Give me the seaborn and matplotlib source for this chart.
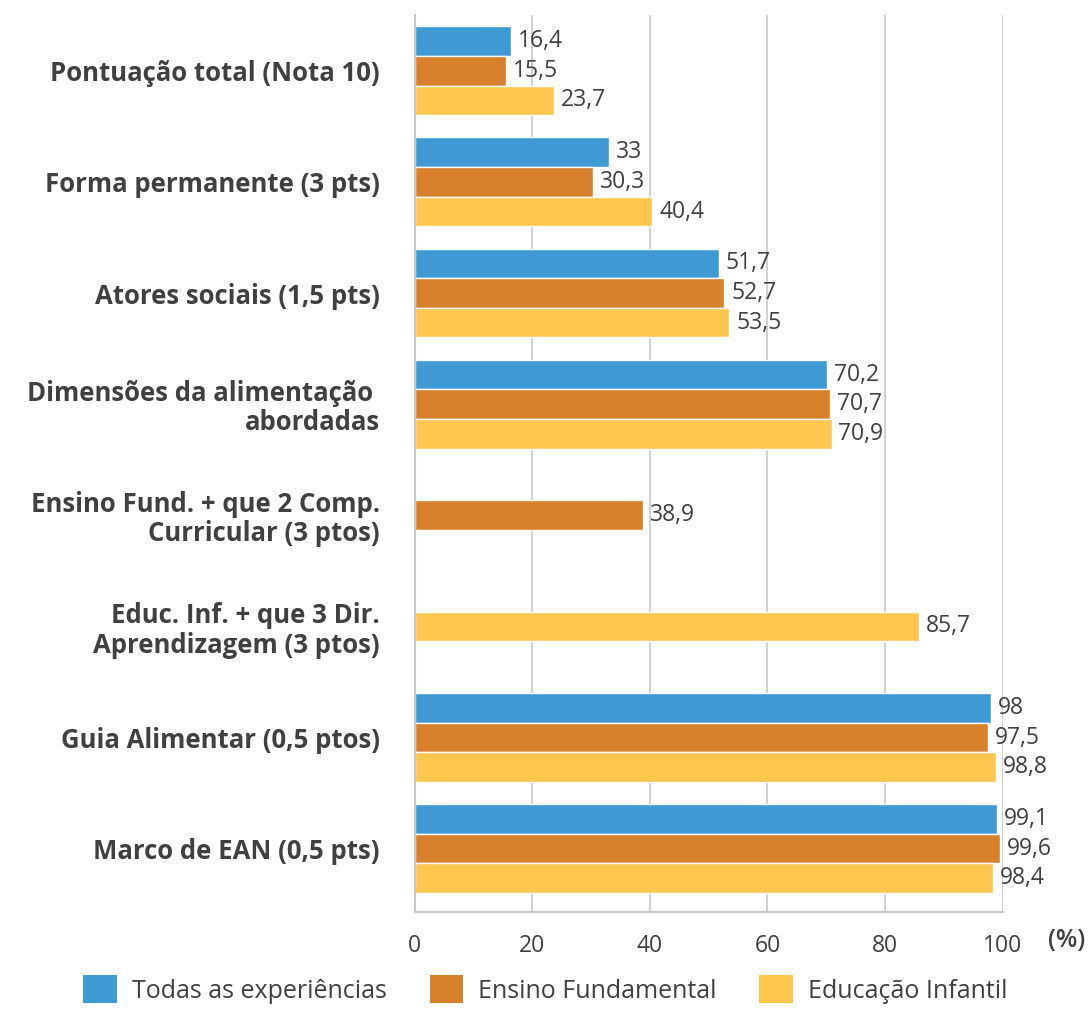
import numpy as np
import pandas as pd
import matplotlib.pyplot as plt
from matplotlib.patches import Patch
import seaborn as sns

# Data
categories = [
    "Pontuação total (Nota 10)",
    "Forma permanente (3 pts)",
    "Atores sociais (1,5 pts)",
    "Dimensões da alimentação \nabordadas",
    "Ensino Fund. + que 2 Comp.\nCurricular (3 ptos)",
    "Educ. Inf. + que 3 Dir.\nAprendizagem (3 ptos)",
    "Guia Alimentar (0,5 ptos)",
    "Marco de EAN (0,5 pts)",
]
series = ["Todas as experiências", "Ensino Fundamental", "Educação Infantil"]
todas = [16.4, 33, 51.7, 70.2, np.nan, np.nan, 98, 99.1]
fundamental = [15.5, 30.3, 52.7, 70.7, 38.9, np.nan, 97.5, 99.6]
infantil = [23.7, 40.4, 53.5, 70.9, np.nan, 85.7, 98.8, 98.4]
x_ticks = [0, 20, 40, 60, 80, 100]

colors = ["#3F99D3", "#D8812D", "#FDC64F"]
text_color = "#404040"
grid_color = "#c8c8c8"

sns.set_style("white")
plt.rcParams["font.family"] = ["Open Sans", "DejaVu Sans"]
plt.rcParams["text.color"] = text_color

df = pd.DataFrame({"categoria": categories, series[0]: todas,
                   series[1]: fundamental, series[2]: infantil})
long_df = df.melt(id_vars="categoria", var_name="serie", value_name="valor").dropna()
counts = long_df.groupby("categoria")["valor"].transform("count")
grouped = long_df[counts > 1]
single = long_df[counts == 1]

fig = plt.figure(figsize=(10.91, 10.13), dpi=100)
ax = fig.add_axes([0.380, 0.0997, 0.539, 0.8853])

sns.barplot(data=grouped, x="valor", y="categoria", hue="serie",
            order=categories, hue_order=series, palette=colors, saturation=1,
            width=0.8, orient="h", edgecolor="white", linewidth=1,
            legend=False, ax=ax)

# rows with a single series: bar centred in the category band
for _, row in single.iterrows():
    sns.barplot(x=[row["valor"]], y=[row["categoria"]], order=categories,
                color=colors[series.index(row["serie"])], saturation=1,
                width=0.8 / 3, orient="h", edgecolor="white", linewidth=1, ax=ax)


def fmt(v):
    return f"{v:.1f}".rstrip("0").rstrip(".").replace(".", ",")


for cont in ax.containers:
    ax.bar_label(cont, labels=[fmt(b.get_width()) for b in cont],
                 padding=5, fontsize=16.5, color=text_color)

ax.set_xlim(0, 100)
ax.set_ylim(7.57, -0.5)
ax.set_xticks(x_ticks)
ax.set_xticklabels([str(t) for t in x_ticks])
ax.set_xlabel("")
ax.set_ylabel("")
ax.grid(axis="x", color=grid_color, linewidth=1.2)
ax.set_axisbelow(True)

ax.set_yticks(np.arange(-0.5, 8, 1), minor=True)
ax.tick_params(axis="y", which="major", length=0, pad=25, labelsize=18.5)
ax.tick_params(axis="y", which="minor", length=9, width=1.2, color=grid_color)
ax.tick_params(axis="x", length=9, width=1.2, color=grid_color, pad=7,
               labelsize=16.5, labelcolor=text_color)
for lbl in ax.get_yticklabels():
    lbl.set_fontweight("bold")
    lbl.set_color(text_color)
    lbl.set_multialignment("right")
    lbl.set_linespacing(1.1)

for s in ["top", "right"]:
    ax.spines[s].set_visible(False)
for s in ["left", "bottom"]:
    ax.spines[s].set_color(grid_color)
    ax.spines[s].set_linewidth(1.5)

fig.text(1067 / 1091, 1 - 940 / 1013, "(%)", ha="center", va="center",
         fontsize=18, fontweight="semibold", color=text_color)

handles = [Patch(facecolor=c, edgecolor="none", label=s) for c, s in zip(colors, series)]
fig.legend(handles=handles, loc="lower center", bbox_to_anchor=(0.5, -0.013),
           ncol=3, frameon=False, fontsize=18, handlelength=1.35, handleheight=1.35,
           handletextpad=0.6, columnspacing=1.7)

fig.savefig("out.png", dpi=100)
